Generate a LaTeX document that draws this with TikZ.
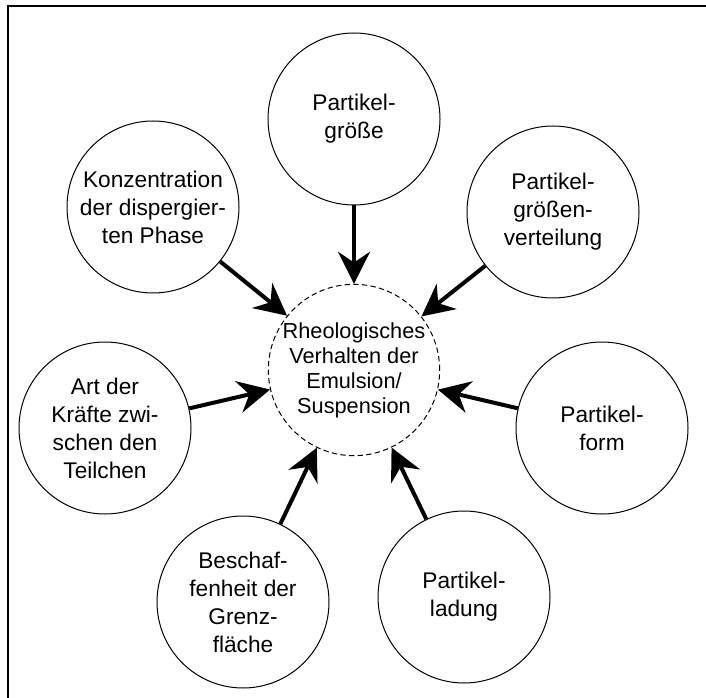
\documentclass[tikz,border=0pt]{standalone}
\usepackage{fontspec}
\setmainfont{Liberation Sans}
\usetikzlibrary{arrows.meta}
\begin{document}
\begin{tikzpicture}[x=0.75pt,y=-0.75pt,
  outer/.style={circle,draw,line width=0.75pt,minimum size=129pt,inner sep=0pt,align=center,
    font=\fontsize{17}{21}\selectfont},
  centre/.style={circle,draw,dash pattern=on 4pt off 2.5pt,line width=0.75pt,minimum size=127.5pt,inner sep=0pt,align=center,
    font=\fontsize{16.3}{18.75}\selectfont},
  arr/.style={line width=3pt,-{Stealth[length=24pt,width=24pt,inset=8pt]}},
  frame/.style={line width=1.5pt}]
\useasboundingbox (0,0) rectangle (706,698);
\draw[frame] (8,698) -- (8,6) -- (706,6);
\node[centre] (C) at (354,370) {Rheologisches\\Verhalten der\\Emulsion/\\Suspension};
\node[outer] (top) at (354,119) {Partikel-\\größe};
\node[outer] (konz) at (153,207) {Konzentration\\der dispergier-\\ten Phase};
\node[outer] (vert) at (553,212) {Partikel-\\größen-\\verteilung};
\node[outer] (art) at (105,428) {Art der\\Kräfte zwi-\\schen den\\Teilchen};
\node[outer] (form) at (602,428) {Partikel-\\form};
\node[outer] (besch) at (243,602) {Beschaf-\\fenheit der\\Grenz-\\fläche};
\node[outer] (lad) at (464,597) {Partikel-\\ladung};
\foreach \n in {top,konz,vert,art,form,besch,lad}
  \draw[arr] (\n) -- (C);
\end{tikzpicture}
\end{document}
